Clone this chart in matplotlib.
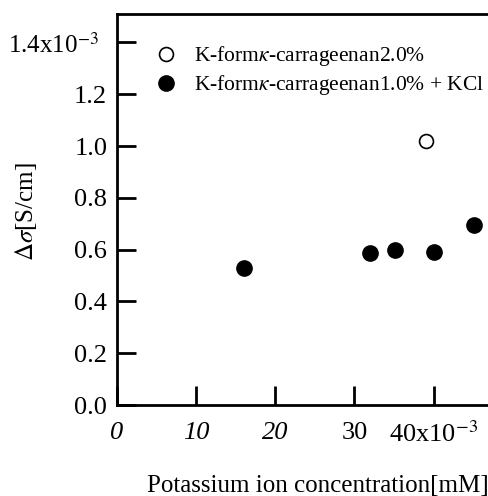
import matplotlib
matplotlib.use("Agg")
import matplotlib.pyplot as plt
from matplotlib.ticker import FixedLocator, FixedFormatter

plt.rcParams['font.family'] = ['Liberation Serif', 'DejaVu Serif']
plt.rcParams['mathtext.fontset'] = 'stix'

# Data (x axis scaled by 1e-3, y axis scaled by 1e-3 S/cm)
x_open = [39.1]
y_open = [1.021]
x_filled = [16.1, 32.0, 35.1, 40.0, 45.1]
y_filled = [0.528, 0.588, 0.598, 0.591, 0.695]

xticks = [0, 10, 20, 30, 40]
xticklabels = ["0", "10", "20", "30", "40x10$^{-3}$"]
yticks = [0.0, 0.2, 0.4, 0.6, 0.8, 1.0, 1.2, 1.4]
yticklabels = ["0.0", "0.2", "0.4", "0.6", "0.8", "1.0", "1.2", "1.4x10$^{-3}$  "]

label_open = "K-form$\\kappa$-carrageenan2.0%"
label_filled = "K-form$\\kappa$-carrageenan1.0% + KCl"

fig = plt.figure(figsize=(4.89, 4.96), dpi=100)
ax = fig.add_axes([117/489, 1 - 405/496, 1 - 117/489, (405 - 14)/496])

ax.plot(x_open, y_open, 'o', markerfacecolor='white', markeredgecolor='black',
        markersize=10, markeredgewidth=1.2, linestyle='none', label=label_open)
ax.plot(x_filled, y_filled, 'o', color='black', markersize=11,
        linestyle='none', label=label_filled)

ax.set_xlim(0, 47.0)
ax.set_ylim(0, 1.51)

ax.xaxis.set_major_locator(FixedLocator(xticks))
ax.xaxis.set_major_formatter(FixedFormatter(xticklabels))
ax.yaxis.set_major_locator(FixedLocator(yticks))
ax.yaxis.set_major_formatter(FixedFormatter(yticklabels))

ax.tick_params(axis='both', direction='in', length=14, width=2)
ax.tick_params(axis='x', pad=12, labelsize=19)
ax.tick_params(axis='y', pad=7, labelsize=19)
for lab in ax.get_xticklabels()[:3]:
    lab.set_fontstyle('italic')
ax.get_yticklabels()[-1].set_fontsize(18)

for s in ['left', 'bottom', 'top']:
    ax.spines[s].set_linewidth(2)
ax.spines['right'].set_visible(False)

ax.set_ylabel("$\\mathit{\\Delta\\sigma}$[S/cm]", fontsize=18, va='center')
ax.yaxis.set_label_coords(-0.245, 0.494)
ax.set_xlabel("Potassium ion concentration[mM]", fontsize=18, va='top')
ax.xaxis.set_label_coords(0.54, -0.178)

leg = ax.legend(loc='upper left', bbox_to_anchor=(0.08, 0.945), frameon=False,
                fontsize=15.5, handletextpad=0.8, labelspacing=0.25,
                handlelength=1.0, borderaxespad=0)

fig.savefig("out.png", dpi=100)
